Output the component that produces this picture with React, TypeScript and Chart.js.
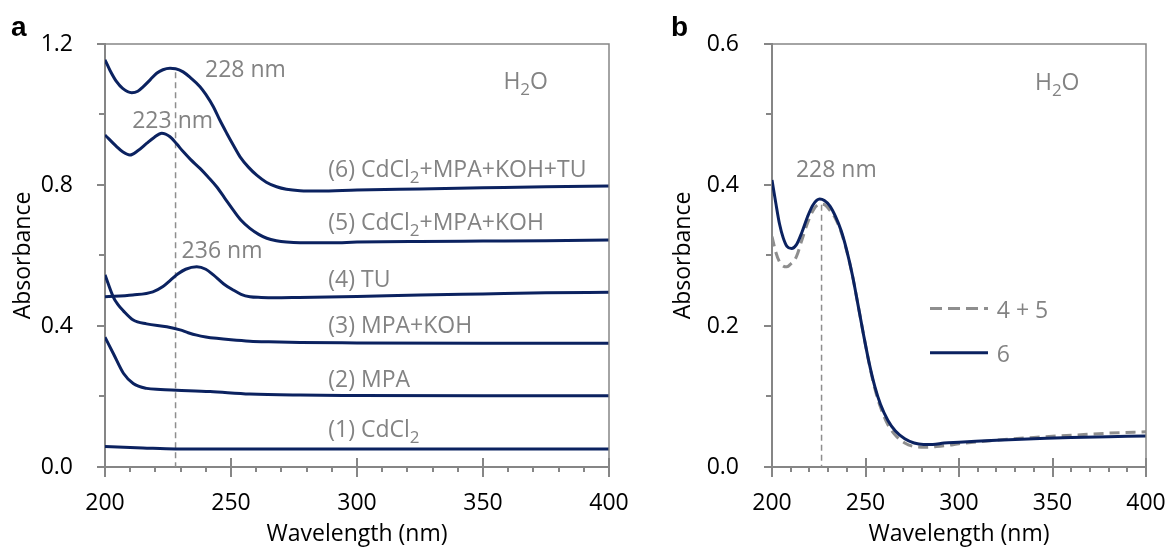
import React, { useEffect, useRef } from "react";
import { Chart, registerables } from "chart.js";

Chart.register(...registerables);

const FONT = "'Open Sans', 'Noto Sans', sans-serif";
const NAVY = "#0b2260";
const GRAY_TEXT = "#838383";
const AXIS = "#868686";
const DASH_GRAY = "#8e8e8e";

// ---------- Panel a data (wavelength nm, absorbance) ----------
const wlA1 = [200, 215, 228, 260, 300, 350, 400];
const absA1 = [0.058, 0.054, 0.051, 0.051, 0.051, 0.051, 0.051];

const wlA2 = [200, 203.3, 207.3, 211.2, 216.5, 222, 228.4, 241.7, 257.5, 277.4, 300, 350, 400];
const absA2 = [0.368, 0.322, 0.266, 0.237, 0.223, 0.22, 0.218, 0.214, 0.207, 0.204, 0.203, 0.202, 0.202];

const wlA3 = [200, 203.3, 205, 207.3, 211.2, 216.5, 224.5, 229.8, 233, 236.4, 240, 244.3, 250, 257.5, 265, 277.4, 300, 350, 400];
const absA3 = [0.545, 0.482, 0.462, 0.443, 0.417, 0.406, 0.398, 0.389, 0.381, 0.374, 0.369, 0.365, 0.361, 0.357, 0.355, 0.353, 0.352, 0.351, 0.351];

const wlA4 = [200, 211, 219, 223, 226, 229, 232, 236.4, 240, 243, 247, 250.9, 254, 257.5, 262, 267, 277, 300, 325, 350, 375, 400];
const absA4 = [0.483, 0.488, 0.497, 0.512, 0.53, 0.548, 0.561, 0.568, 0.561, 0.545, 0.52, 0.502, 0.49, 0.483, 0.481, 0.48, 0.481, 0.484, 0.488, 0.491, 0.494, 0.496];

const wlA5 = [200, 204.6, 207, 209.9, 213, 216.5, 219.5, 222.5, 225.8, 228.5, 231.1, 234, 237.7, 241, 244.3, 247.5, 250.9, 254, 257.5, 261, 264.2, 268, 272, 277.4, 290, 300, 325, 350, 375, 400];
const absA5 = [0.942, 0.909, 0.894, 0.885, 0.897, 0.918, 0.935, 0.947, 0.937, 0.916, 0.894, 0.872, 0.847, 0.822, 0.795, 0.763, 0.729, 0.7, 0.677, 0.66, 0.649, 0.642, 0.638, 0.636, 0.636, 0.638, 0.64, 0.641, 0.642, 0.644];

const wlA6 = [200, 202, 204.6, 207, 210.6, 213, 215.2, 218, 220.5, 223, 225.8, 228, 231, 234, 237.7, 240, 243, 245.5, 248.3, 251, 253.6, 257, 260.2, 264, 268.1, 272, 277.4, 285, 300, 325, 350, 375, 400];
const absA6 = [1.155, 1.125, 1.093, 1.074, 1.062, 1.066, 1.079, 1.099, 1.117, 1.127, 1.131, 1.13, 1.121, 1.104, 1.079, 1.057, 1.022, 0.985, 0.947, 0.912, 0.88, 0.85, 0.828, 0.808, 0.795, 0.788, 0.784, 0.783, 0.786, 0.789, 0.792, 0.795, 0.797];

// ---------- Panel b data ----------
const wlB6 = [200, 202, 204, 206, 208, 210.5, 213, 216, 219, 222, 225.5, 228, 231, 234, 237, 240, 243, 246, 249, 252, 255, 258, 262, 266, 271, 276, 281, 286, 292, 300, 320, 340, 360, 380, 400];
const absB6 = [0.407, 0.375, 0.345, 0.325, 0.313, 0.31, 0.315, 0.333, 0.355, 0.372, 0.38, 0.378, 0.37, 0.355, 0.335, 0.307, 0.272, 0.23, 0.187, 0.147, 0.114, 0.089, 0.066, 0.051, 0.04, 0.034, 0.032, 0.032, 0.034, 0.035, 0.038, 0.04, 0.042, 0.043, 0.044];

const wlB45 = [200, 202, 204, 206, 208, 210, 213, 216, 219, 222, 225.5, 228, 231, 234, 237, 240, 243, 246, 249, 252, 255, 258, 262, 266, 271, 276, 282, 288, 295, 300, 320, 340, 360, 380, 400];
const absB45 = [0.327, 0.305, 0.291, 0.285, 0.284, 0.288, 0.298, 0.322, 0.346, 0.364, 0.373, 0.372, 0.364, 0.352, 0.333, 0.306, 0.272, 0.23, 0.187, 0.146, 0.111, 0.085, 0.06, 0.045, 0.034, 0.029, 0.028, 0.029, 0.031, 0.033, 0.038, 0.042, 0.045, 0.048, 0.05];

// ---------- Tick labels & text ----------
const xTickLabels = [200, 250, 300, 350, 400];
const xMinorStep = 10;
const yTickLabelsA = [0, 0.4, 0.8, 1.2];
const yTickLabelsB = [0, 0.2, 0.4, 0.6];
const curveLabelsA = ["(1) CdCl_2", "(2) MPA", "(3) MPA+KOH", "(4) TU", "(5) CdCl_2+MPA+KOH", "(6) CdCl_2+MPA+KOH+TU"];
const peakLabelsA = ["228 nm", "223 nm", "236 nm"];
const peakLabelsB = ["228 nm"];
const legendLabelsB = ["4 + 5", "6"];
const solventLabel = "H_2O";
const peakLineA = 228;
const peakLineB = 226.5;

const pts = (wl: number[], ab: number[]) => wl.map((x, i) => ({ x, y: ab[i] }));

function drawRich(ctx: CanvasRenderingContext2D, x: number, y: number, text: string, color: string) {
  const parts = text.split(/_(\d)/);
  let cx = x;
  ctx.fillStyle = color;
  ctx.textBaseline = "alphabetic";
  ctx.textAlign = "left";
  parts.forEach((p, i) => {
    if (!p) return;
    const sub = i % 2 === 1;
    ctx.font = sub ? `17px ${FONT}` : `23px ${FONT}`;
    ctx.fillText(p, cx, sub ? y + 6 : y);
    cx += ctx.measureText(p).width;
  });
}

function drawFrameAndTicks(chart: any, yStep: number, yMax: number) {
  const ctx: CanvasRenderingContext2D = chart.ctx;
  const ca = chart.chartArea;
  const xs = chart.scales.x;
  const ys = chart.scales.y;
  const L = ca.left, R = ca.right, T = ca.top, B = ca.bottom;
  ctx.save();
  ctx.setLineDash([]);
  ctx.strokeStyle = AXIS;
  ctx.lineWidth = 1.5;
  ctx.beginPath();
  ctx.moveTo(L, T);
  ctx.lineTo(R, T);
  ctx.lineTo(R, B);
  ctx.stroke();
  ctx.lineWidth = 2;
  ctx.beginPath();
  const nx = Math.round((xs.max - xs.min) / xMinorStep);
  for (let k = 0; k <= nx; k++) {
    const v = xs.min + k * xMinorStep;
    const px = Math.round(xs.getPixelForValue(v));
    const major = xTickLabels.indexOf(v) >= 0;
    ctx.moveTo(px, major ? B - 9 : B);
    ctx.lineTo(px, major ? B + 10 : B + 5);
  }
  const ny = Math.round(yMax / yStep);
  for (let k = 0; k <= ny; k++) {
    const py = Math.round(ys.getPixelForValue(k * yStep));
    const len = k % 2 === 0 ? 8 : 6;
    ctx.moveTo(L - len, py);
    ctx.lineTo(L, py);
  }
  ctx.stroke();
  ctx.restore();
}

function drawPeakLine(chart: any, wl: number, topVal: number) {
  const { ctx, chartArea: ca, scales } = chart;
  const px = scales.x.getPixelForValue(wl);
  const top = scales.y.getPixelForValue(topVal);
  ctx.save();
  ctx.strokeStyle = DASH_GRAY;
  ctx.lineWidth = 1.5;
  ctx.setLineDash([6, 4]);
  ctx.beginPath();
  ctx.moveTo(px, top);
  ctx.lineTo(px, ca.bottom);
  ctx.stroke();
  ctx.restore();
}

function drawLetter(chart: any, letter: string) {
  const { ctx } = chart;
  ctx.save();
  ctx.fillStyle = "#000";
  ctx.font = `bold 28px 'Liberation Sans', Arial, sans-serif`;
  ctx.textBaseline = "alphabetic";
  ctx.textAlign = "left";
  ctx.fillText(letter, 11, 36);
  ctx.restore();
}

const decorA = {
  id: "decorA",
  beforeDatasetsDraw(chart: any) {
    drawPeakLine(chart, peakLineA, 1.12);
  },
  afterDatasetsDraw(chart: any) {
    const { ctx, scales } = chart;
    const X = (v: number) => scales.x.getPixelForValue(v);
    const Y = (v: number) => scales.y.getPixelForValue(v);
    ctx.save();
    drawRich(ctx, X(239.7), Y(1.107), peakLabelsA[0], GRAY_TEXT);
    drawRich(ctx, X(210.8), Y(0.961), peakLabelsA[1], GRAY_TEXT);
    drawRich(ctx, X(230.4), Y(0.593), peakLabelsA[2], GRAY_TEXT);
    drawRich(ctx, X(358.1), Y(1.072), solventLabel, GRAY_TEXT);
    const labelY = [0.085, 0.227, 0.38, 0.511, 0.672, 0.823];
    curveLabelsA.forEach((t, i) => drawRich(ctx, X(288.6), Y(labelY[i]), t, GRAY_TEXT));
    ctx.restore();
  },
  afterDraw(chart: any) {
    drawFrameAndTicks(chart, 0.2, 1.2);
    drawLetter(chart, "a");
  },
};

const decorB = {
  id: "decorB",
  beforeDatasetsDraw(chart: any) {
    drawPeakLine(chart, peakLineB, 0.372);
  },
  afterDatasetsDraw(chart: any) {
    const { ctx, scales } = chart;
    const X = (v: number) => scales.x.getPixelForValue(v);
    const Y = (v: number) => scales.y.getPixelForValue(v);
    ctx.save();
    drawRich(ctx, X(212.8), Y(0.411), peakLabelsB[0], GRAY_TEXT);
    drawRich(ctx, X(340.6), Y(0.535), solventLabel, GRAY_TEXT);
    // legend
    ctx.lineWidth = 3;
    ctx.strokeStyle = DASH_GRAY;
    ctx.setLineDash([12, 6]);
    ctx.beginPath();
    ctx.moveTo(X(284.5), Y(0.225));
    ctx.lineTo(X(315.5), Y(0.225));
    ctx.stroke();
    ctx.setLineDash([]);
    ctx.strokeStyle = NAVY;
    ctx.beginPath();
    ctx.moveTo(X(284.5), Y(0.162));
    ctx.lineTo(X(315.5), Y(0.162));
    ctx.stroke();
    drawRich(ctx, X(320.2), Y(0.211), legendLabelsB[0], GRAY_TEXT);
    drawRich(ctx, X(320.2), Y(0.149), legendLabelsB[1], GRAY_TEXT);
    ctx.restore();
  },
  afterDraw(chart: any) {
    drawFrameAndTicks(chart, 0.1, 0.6);
    drawLetter(chart, "b");
  },
};

function baseScales(yMax: number, yStep: number, yLabels: number[], yWidth: number, yPad: number) {
  return {
    x: {
      type: "linear",
      min: 200,
      max: 400,
      ticks: {
        stepSize: 10,
        autoSkip: false,
        maxRotation: 0,
        padding: 23,
        color: "#000",
        font: { family: FONT, size: 23 },
        callback: (v: any) => (xTickLabels.includes(Math.round(v)) ? String(Math.round(v)) : ""),
      },
      grid: { display: false, drawTicks: false },
      border: { display: true, color: AXIS, width: 2 },
      title: {
        display: true,
        text: "Wavelength (nm)",
        color: "#000",
        font: { family: FONT, size: 23 },
        padding: { top: 0, bottom: 2 },
      },
      afterFit: (s: any) => {
        s.height = 83;
        s.paddingLeft = 0;
        s.paddingRight = 0;
      },
    },
    y: {
      type: "linear",
      min: 0,
      max: yMax,
      ticks: {
        stepSize: yStep,
        autoSkip: false,
        padding: yPad,
        color: "#000",
        font: { family: FONT, size: 23 },
        callback: (v: any) => {
          const r = Math.round(v * 10) / 10;
          return yLabels.some((l) => Math.abs(l - r) < 1e-6) ? r.toFixed(1) : "";
        },
      },
      grid: { display: false, drawTicks: false },
      border: { display: true, color: AXIS, width: 2 },
      title: {
        display: true,
        text: "Absorbance",
        color: "#000",
        font: { family: FONT, size: 23 },
        padding: { top: 10, bottom: 0 },
      },
      afterFit: (s: any) => {
        s.width = yWidth;
        s.paddingTop = 0;
        s.paddingBottom = 0;
      },
    },
  };
}

const lineDs = (data: any, color: string, dash: number[] = []) => ({
  data,
  borderColor: color,
  borderWidth: 3,
  borderDash: dash,
  pointRadius: 0,
  fill: false,
  cubicInterpolationMode: "monotone",
});

function configA(): any {
  return {
    type: "line",
    data: {
      datasets: [
        lineDs(pts(wlA1, absA1), NAVY),
        lineDs(pts(wlA2, absA2), NAVY),
        lineDs(pts(wlA3, absA3), NAVY),
        lineDs(pts(wlA4, absA4), NAVY),
        lineDs(pts(wlA5, absA5), NAVY),
        lineDs(pts(wlA6, absA6), NAVY),
      ],
    },
    options: {
      responsive: false,
      animation: false,
      devicePixelRatio: 1,
      layout: { padding: { left: 0, right: 51, top: 44, bottom: 0 } },
      plugins: { legend: { display: false }, tooltip: { enabled: false } },
      scales: baseScales(1.2, 0.2, yTickLabelsA, 105, 32),
    },
    plugins: [decorA],
  };
}

function configB(): any {
  return {
    type: "line",
    data: {
      datasets: [
        lineDs(pts(wlB6, absB6), NAVY),
        lineDs(pts(wlB45, absB45), DASH_GRAY, [10, 6]),
      ],
    },
    options: {
      responsive: false,
      animation: false,
      devicePixelRatio: 1,
      layout: { padding: { left: 0, right: 26, top: 44, bottom: 0 } },
      plugins: { legend: { display: false }, tooltip: { enabled: false } },
      scales: baseScales(0.6, 0.1, yTickLabelsB, 112, 33),
    },
    plugins: [decorB],
  };
}

function ChartCanvas({ config, left, width }: { config: () => any; left: number; width: number }) {
  const ref = useRef<HTMLCanvasElement>(null);
  useEffect(() => {
    const chart = new Chart(ref.current as HTMLCanvasElement, config());
    return () => chart.destroy();
  }, []);
  return (
    <canvas
      ref={ref}
      width={width}
      height={550}
      style={{ position: "absolute", left, top: 0, width, height: 550, display: "block" }}
    />
  );
}

export default function App() {
  return (
    <div style={{ position: "absolute", left: 0, top: 0, width: 1172, height: 550, background: "#fff", overflow: "hidden" }}>
      <ChartCanvas config={configA} left={0} width={660} />
      <ChartCanvas config={configB} left={660} width={512} />
    </div>
  );
}
